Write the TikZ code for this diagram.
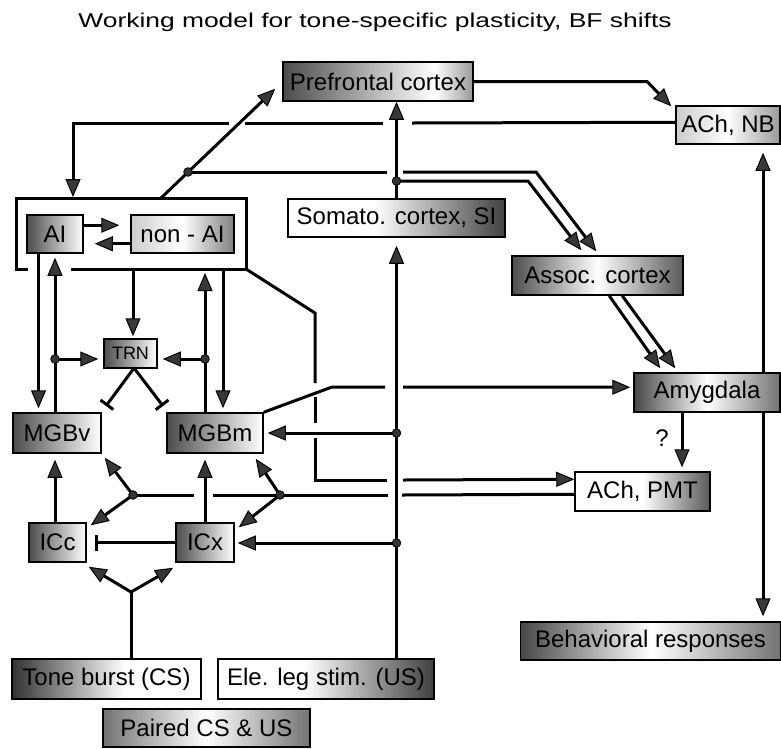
\documentclass[tikz,border=0pt]{standalone}
\usepackage{fontspec}
\setmainfont{Liberation Sans}
\usetikzlibrary{arrows.meta,calc}
\pgfdeclarelayer{bg}
\pgfsetlayers{bg,main}
\pgfdeclarehorizontalshading{shA}{100bp}{color(0bp)=(black!70); color(25bp)=(black!70); color(75bp)=(white); color(100bp)=(white)}
\pgfdeclarehorizontalshading{shPFC}{100bp}{color(0bp)=(black!70); color(25bp)=(black!70); color(65bp)=(white); color(75bp)=(black!40); color(100bp)=(black!40)}
\pgfdeclarehorizontalshading{shNB}{100bp}{color(0bp)=(black!20); color(25bp)=(black!20); color(50bp)=(white); color(75bp)=(black!40); color(100bp)=(black!40)}
\pgfdeclarehorizontalshading{shSom}{100bp}{color(0bp)=(white); color(25bp)=(white); color(45bp)=(white); color(75bp)=(black!75); color(100bp)=(black!75)}
\pgfdeclarehorizontalshading{shNon}{100bp}{color(0bp)=(black!20); color(25bp)=(black!20); color(50bp)=(white); color(75bp)=(black!50); color(100bp)=(black!50)}
\pgfdeclarehorizontalshading{shAsc}{100bp}{color(0bp)=(black!70); color(25bp)=(black!70); color(50bp)=(white); color(75bp)=(black!65); color(100bp)=(black!65)}
\pgfdeclarehorizontalshading{shAmy}{100bp}{color(0bp)=(black!72); color(25bp)=(black!72); color(50bp)=(white); color(75bp)=(black!55); color(100bp)=(black!55)}
\pgfdeclarehorizontalshading{shPMT}{100bp}{color(0bp)=(white); color(25bp)=(white); color(50bp)=(white); color(75bp)=(black!65); color(100bp)=(black!65)}
\pgfdeclarehorizontalshading{shTone}{100bp}{color(0bp)=(black!80); color(25bp)=(black!80); color(55bp)=(white); color(75bp)=(white); color(100bp)=(white)}
\pgfdeclarehorizontalshading{shPair}{100bp}{color(0bp)=(black!55); color(25bp)=(black!55); color(50bp)=(white); color(75bp)=(black!55); color(100bp)=(black!55)}
\begin{document}
\begin{tikzpicture}[x=1pt,y=-1pt,
  box/.style={draw=black, line width=1.5pt, inner sep=0pt, font=\fontsize{24pt}{28pt}\selectfont},
  con/.style={line width=3pt, line cap=butt, line join=miter},
  arr/.style={con, -{Triangle[length=18pt,width=15pt,fill=black!78,line width=1pt]}},
  arrboth/.style={con, {Triangle[length=18pt,width=15pt,fill=black!78,line width=1pt]}-{Triangle[length=18pt,width=15pt,fill=black!78,line width=1pt]}},
  inh/.style={con, -{Bar[width=16pt,line width=3pt]}},
  jdot/.style={fill=black!80, draw=black, line width=0.8pt}]
\useasboundingbox (0,0) rectangle (781,748);
\begin{pgfonlayer}{bg}
\fill[white] (0,0) rectangle (781,748);
\end{pgfonlayer}

\node[font=\fontsize{20pt}{23pt}\selectfont] (title) at (375,22) {\scalebox{1.32}[1]{Working model for tone-specific plasticity, BF shifts}};

% nodes
\node[box, shading=shPFC, minimum width=190pt, minimum height=39pt] (pfc) at (378,81.5) {Prefrontal cortex};
\node[box, shading=shNB, minimum width=104pt, minimum height=38pt] (achnb) at (728,125) {ACh, NB};
\node[box, shading=shSom, minimum width=217pt, minimum height=38pt] (somato) at (396.5,218) {Somato. cortex, SI};
\node[box, shading=shA, minimum width=56pt, minimum height=38pt] (ai) at (55,234) {AI};
\node[box, shading=shNon, minimum width=103pt, minimum height=38pt] (nonai) at (182.5,234) {non - AI};
\node[box, shading=shAsc, minimum width=171pt, minimum height=39pt] (assoc) at (597.5,275.5) {Assoc. cortex};
\node[box, shading=shA, minimum width=53pt, minimum height=29pt, font=\fontsize{18pt}{20pt}\selectfont] (trn) at (130.5,353.5) {TRN};
\node[box, shading=shA, minimum width=88pt, minimum height=40pt] (mgbv) at (57,433) {MGBv};
\node[box, shading=shA, minimum width=96pt, minimum height=40pt] (mgbm) at (215,433) {MGBm};
\node[box, shading=shAmy, minimum width=146pt, minimum height=39pt] (amyg) at (707,392.5) {Amygdala};
\node[box, shading=shPMT, minimum width=135pt, minimum height=39pt] (achpmt) at (642.5,491.5) {ACh, PMT};
\node[box, shading=shA, minimum width=57pt, minimum height=39pt] (icc) at (57.5,542.5) {ICc};
\node[box, shading=shA, minimum width=58pt, minimum height=39pt] (icx) at (205,542.5) {ICx};
\node[box, shading=shTone, minimum width=189pt, minimum height=40pt] (tone) at (106.5,679) {Tone burst (CS)};
\node[box, shading=shSom, minimum width=216pt, minimum height=40pt] (ele) at (326,679) {Ele. leg stim. (US)};
\node[box, shading=shPair, minimum width=207pt, minimum height=38pt] (paired) at (206.5,728) {Paired CS \& US};
\node[box, shading=shAmy, minimum width=260pt, minimum height=38pt] (behav) at (650.5,641) {Behavioral responses};

% helper coordinates
\coordinate (vS) at (396.5,0);
\coordinate (vL) at (55,0);
\coordinate (vAI) at (38.5,0);
\coordinate (vM) at (205,0);
\coordinate (vMd) at (223,0);
\coordinate (vT) at (133,0);
\coordinate (vR) at (763,0);
\coordinate (vA) at (682,0);
\coordinate (tb) at (131,592);
\coordinate (d1) at (188,172);
\coordinate (d2) at (396.5,181);
\coordinate (dm) at (396.5,433);
\coordinate (dx) at (396.5,543);
\coordinate (dL) at (133,495);
\coordinate (dR) at (280,495);
\coordinate (dv) at (55,359);
\coordinate (dmm) at (205,359);
\coordinate (ob1) at (161,198);

% outer box around AI / non-AI and its continuation to ACh, PMT
\draw[con] (28,269) -- (16,269) -- (16,198) -- (246,198) -- (246,269) -- (71,269);
\draw[con] (246,269) -- (315,313) -- (315,383);
\draw[con] (315,397) -- (315,423);
\draw[con] (315,438) -- (315,480) -- (387,480);
\draw[arr] (403,480) -- ($(achpmt.north west)+(0,8)$);

% AI <-> non-AI
\draw[arr] ($(ai.north east)+(0,11)$) -- ($(nonai.north west)+(-11,11)$);
\draw[arr] ($(nonai.south west)+(0,-10)$) -- ($(ai.south east)+(11,-10)$);

% cortex box -> prefrontal
\draw[arr] (ob1) -- ($(pfc.south west)+(-7,-13)$);
% double projections to association cortex
\draw[con] (d1) -- (387,172);
\draw[arr] (403,172) -- (536,172) -- ($(assoc.north west)+(85,-4)$);
\draw[arr] (d2) -- (528,181) -- ($(assoc.north west)+(70,-5)$);
% somato -> prefrontal
\draw[arr] (somato.north -| vS) -- (pfc.south -| vS);
% prefrontal -> ACh, NB
\draw[arr] (pfc.east) -- (647,81.5) -- ($(achnb.north west)+(-4,1)$);
% ACh, NB -> cortex box
\draw[con] ($(achnb.north west)+(0,17)$) -- (412,123);
\draw[con] (383,123) -- (245,123);
\draw[arr] (229,123) -- (73,123) -- (73,197);
% ACh, NB <-> behavioral responses (behind the amygdala box)
\begin{pgfonlayer}{bg}
\draw[arrboth] ($(achnb.south -| vR)+(0,8)$) -- ($(behav.north -| vR)+(0,-5)$);
\end{pgfonlayer}
% association -> amygdala
\draw[arr] ($(assoc.south west)+(98,0)$) -- ($(amyg.north west)+(27,-4)$);
\draw[arr] ($(assoc.south west)+(111,0)$) -- ($(amyg.north west)+(42,-4)$);
% amygdala -> ACh, PMT
\draw[arr] (amyg.south -| vA) -- ($(achpmt.north -| vA)+(0,-4)$);
\node[font=\fontsize{24pt}{26pt}\selectfont] (q) at (662,438) {?};
% US pathway
\draw[arr] (ele.north -| vS) -- ($(somato.south -| vS)+(0,8)$);
\draw[arr] (dm) -- ($(mgbm.east |- dm)+(4,0)$);
\draw[arr] (dx) -- ($(icx.east |- dx)+(3,0)$);
% ACh, PMT -> branches
\draw[con] ($(achpmt.north west)+(0,23)$) -- (402,495);
\draw[con] (388,495) -- (213,495);
\draw[con] (194,495) -- (dL);
\draw[arr] (dR) -- ($(mgbm.south east)+(-8,5)$);
\draw[arr] (dR) -- ($(icx.north east)+(4,5)$);
\draw[arr] (dL) -- ($(mgbv.south east)+(3,4)$);
\draw[arr] (dL) -- ($(icc.north east)+(4,3)$);
% midbrain -> thalamus
\draw[arr] (icc.north -| vL) -- ($(mgbv.south -| vL)+(0,6)$);
\draw[arr] (icx.north -| vM) -- ($(mgbm.south -| vM)+(0,6)$);
\draw[inh] (icx.west) -- ($(icc.east)+(8,0)$);
% tone burst -> ICc, ICx
\draw[con] (tone.north -| tb) -- (tb);
\draw[arr] (tb) -- ($(icc.south east)+(2,4)$);
\draw[arr] (tb) -- ($(icx.south west)+(-2,5)$);
% AI <-> MGBv
\draw[arr] (ai.south -| vAI) -- ($(mgbv.north -| vAI)+(0,-4)$);
\draw[arr] (mgbv.north -| vL) -- ($(ai.south -| vL)+(0,4)$);
\draw[arr] (dv) -- ($(trn.west |- dv)+(-5,0)$);
% cortex -> TRN, MGBm
\draw[arr] (133,269) -- ($(trn.north -| vT)+(0,-2)$);
\draw[arr] (mgbm.north -| vM) -- (205,273);
\draw[arr] (dmm) -- ($(trn.east |- dmm)+(5,0)$);
\draw[arr] (223,269) -- ($(mgbm.north -| vMd)+(0,-4)$);
% TRN inhibition
\draw[inh] (134,368) -- (106,406);
\draw[inh] (134,368) -- (163,406);
% MGBm -> amygdala
\draw[con] (mgbm.north east) -- (332,387) -- (385,387);
\draw[arr] (403,387) -- ($(amyg.north west)+(-3,15)$);

% junction dots
\foreach \p in {d1,d2,dm,dx,dL,dR,dv,dmm} \draw[jdot] (\p) circle (4.3pt);
\end{tikzpicture}
\end{document}
